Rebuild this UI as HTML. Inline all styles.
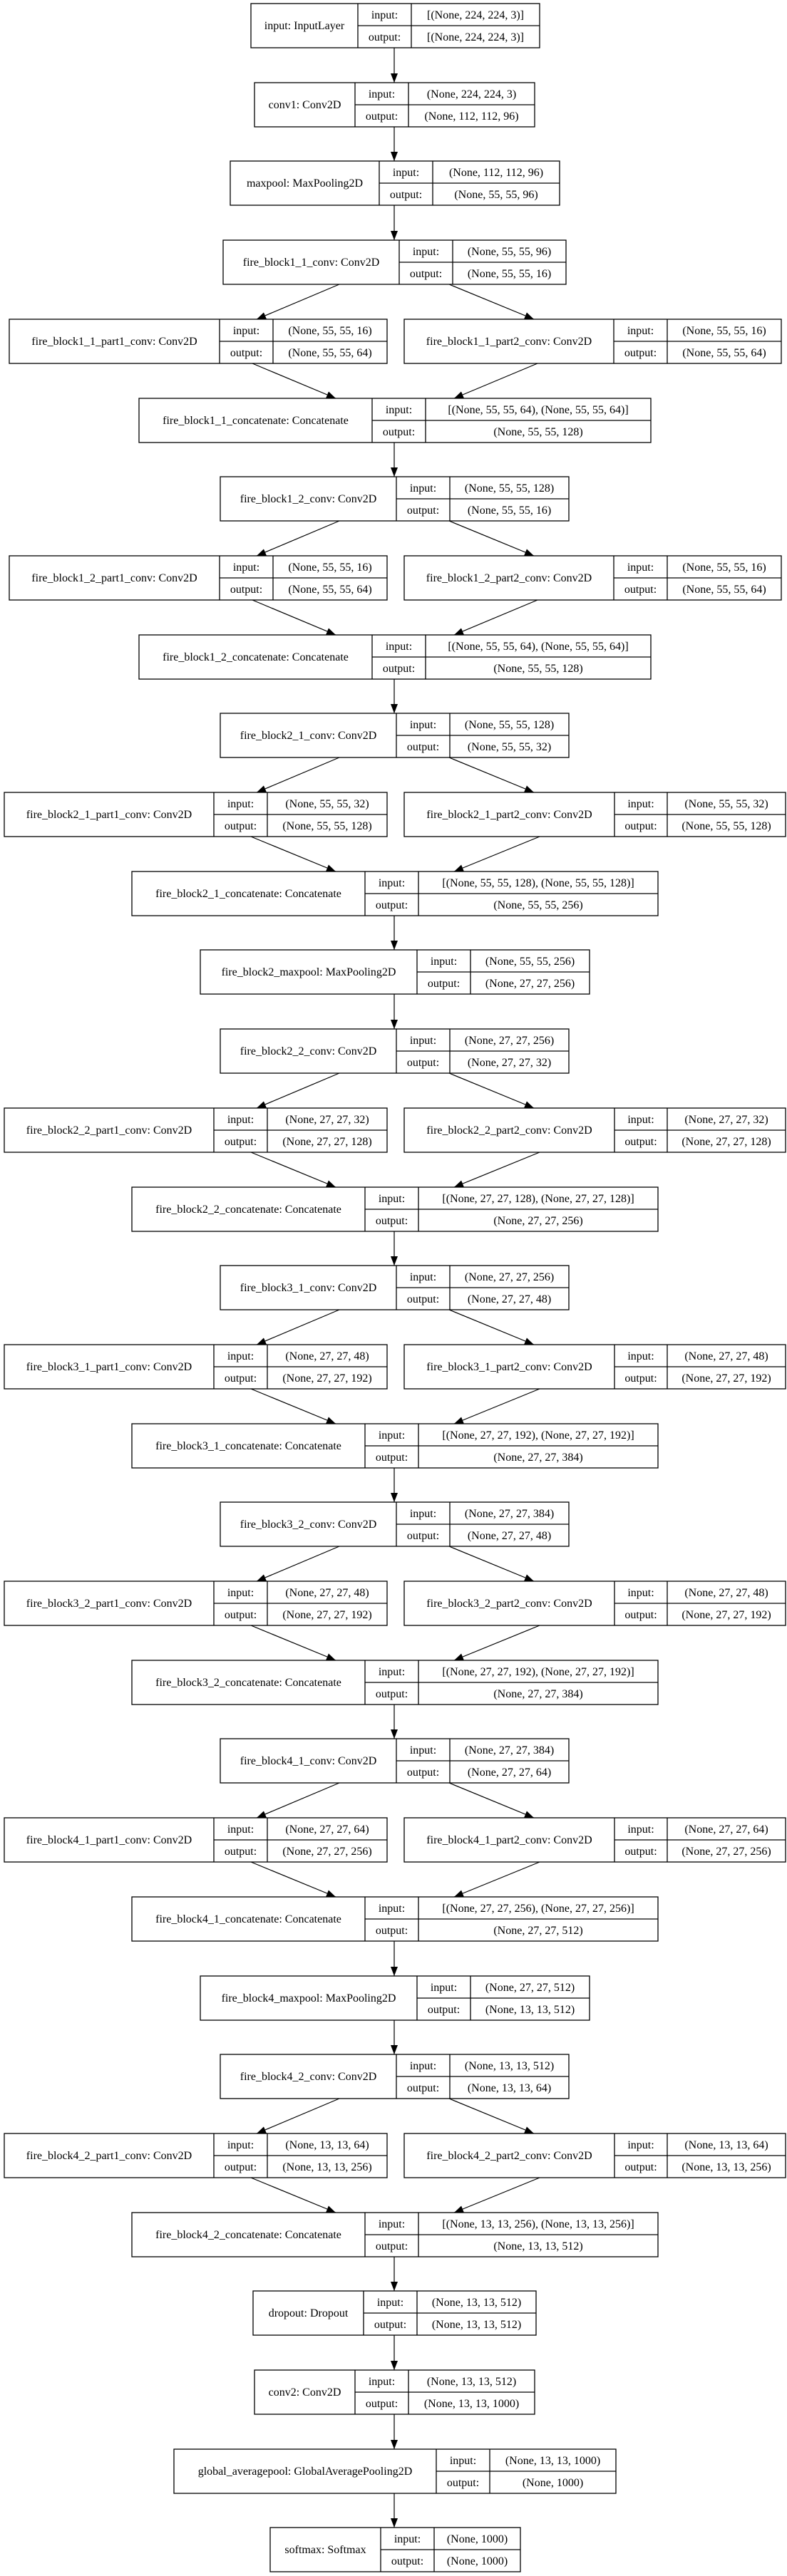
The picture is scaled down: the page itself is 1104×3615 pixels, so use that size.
<!DOCTYPE html>
<html><head><meta charset="utf-8"><style>
html,body{margin:0;padding:0;background:#fff;}
svg{display:block;}
text{font-family:"Liberation Serif",serif;font-size:16px;fill:#000;text-anchor:middle;}
rect{fill:#fff;stroke:#000;stroke-width:1.3;}
line.c{stroke:#000;stroke-width:1.3;}
line.a{stroke:#000;stroke-width:1.2;marker-end:url(#ah);}
</style></head><body>
<svg width="1104" height="3615" viewBox="0 0 1104 3615" xmlns="http://www.w3.org/2000/svg">
<defs><marker id="ah" markerUnits="userSpaceOnUse" markerWidth="14" markerHeight="11" refX="13" refY="5" orient="auto"><path d="M0,0 L13,5 L0,10 z" fill="#000"/></marker></defs>
<rect x="0" y="0" width="1104" height="3615" style="fill:#fff;stroke:none"/>

<!-- 0 input -->
<g transform="translate(0,5)">
<rect x="352" y="0" width="405" height="62"/><line class="c" x1="502" y1="0" x2="502" y2="62"/><line class="c" x1="577" y1="0" x2="577" y2="62"/><line class="c" x1="502" y1="31" x2="757" y2="31"/>
<text x="427" y="36">input: InputLayer</text><text x="539.5" y="21">input:</text><text x="539.5" y="52">output:</text><text x="667" y="21">[(None, 224, 224, 3)]</text><text x="667" y="52">[(None, 224, 224, 3)]</text>
</g>
<!-- 1 conv1 -->
<g transform="translate(0,116)">
<line class="a" x1="553" y1="-49" x2="553" y2="0"/>
<rect x="357" y="0" width="393" height="62"/><line class="c" x1="498" y1="0" x2="498" y2="62"/><line class="c" x1="573" y1="0" x2="573" y2="62"/><line class="c" x1="498" y1="31" x2="750" y2="31"/>
<text x="427.5" y="36">conv1: Conv2D</text><text x="535.5" y="21">input:</text><text x="535.5" y="52">output:</text><text x="661.5" y="21">(None, 224, 224, 3)</text><text x="661.5" y="52">(None, 112, 112, 96)</text>
</g>
<!-- 2 maxpool -->
<g transform="translate(0,226)">
<line class="a" x1="553" y1="-48" x2="553" y2="0"/>
<rect x="323" y="0" width="462" height="62"/><line class="c" x1="532" y1="0" x2="532" y2="62"/><line class="c" x1="607" y1="0" x2="607" y2="62"/><line class="c" x1="532" y1="31" x2="785" y2="31"/>
<text x="427.5" y="36">maxpool: MaxPooling2D</text><text x="569.5" y="21">input:</text><text x="569.5" y="52">output:</text><text x="696" y="21">(None, 112, 112, 96)</text><text x="696" y="52">(None, 55, 55, 96)</text>
</g>
<!-- 3 f11conv -->
<g transform="translate(0,337)">
<line class="a" x1="553" y1="-49" x2="553" y2="0"/>
<rect x="313" y="0" width="481" height="62"/><line class="c" x1="560" y1="0" x2="560" y2="62"/><line class="c" x1="635" y1="0" x2="635" y2="62"/><line class="c" x1="560" y1="31" x2="794" y2="31"/>
<text x="436.5" y="36">fire_block1_1_conv: Conv2D</text><text x="597.5" y="21">input:</text><text x="597.5" y="52">output:</text><text x="714.5" y="21">(None, 55, 55, 96)</text><text x="714.5" y="52">(None, 55, 55, 16)</text>
</g>
<!-- 4 branch -->
<g transform="translate(0,448)">
<line class="a" x1="476" y1="-49" x2="360" y2="0"/><line class="a" x1="630" y1="-49" x2="749" y2="0"/>
<rect x="13" y="0" width="530" height="62"/><line class="c" x1="308" y1="0" x2="308" y2="62"/><line class="c" x1="383" y1="0" x2="383" y2="62"/><line class="c" x1="308" y1="31" x2="543" y2="31"/>
<text x="160.5" y="36">fire_block1_1_part1_conv: Conv2D</text><text x="345.5" y="21">input:</text><text x="345.5" y="52">output:</text><text x="463" y="21">(None, 55, 55, 16)</text><text x="463" y="52">(None, 55, 55, 64)</text>
<rect x="567" y="0" width="529" height="62"/><line class="c" x1="861" y1="0" x2="861" y2="62"/><line class="c" x1="936" y1="0" x2="936" y2="62"/><line class="c" x1="861" y1="31" x2="1096" y2="31"/>
<text x="714" y="36">fire_block1_1_part2_conv: Conv2D</text><text x="898.5" y="21">input:</text><text x="898.5" y="52">output:</text><text x="1016" y="21">(None, 55, 55, 16)</text><text x="1016" y="52">(None, 55, 55, 64)</text>
</g>
<!-- 5 concat -->
<g transform="translate(0,559)">
<line class="a" x1="354" y1="-49" x2="471" y2="0"/><line class="a" x1="754" y1="-49" x2="637" y2="0"/>
<rect x="195" y="0" width="718" height="62"/><line class="c" x1="522" y1="0" x2="522" y2="62"/><line class="c" x1="597" y1="0" x2="597" y2="62"/><line class="c" x1="522" y1="31" x2="913" y2="31"/>
<text x="358.5" y="36">fire_block1_1_concatenate: Concatenate</text><text x="559.5" y="21">input:</text><text x="559.5" y="52">output:</text><text x="755" y="21">[(None, 55, 55, 64), (None, 55, 55, 64)]</text><text x="755" y="52">(None, 55, 55, 128)</text>
</g>
<!-- 6 f12conv -->
<g transform="translate(0,669)">
<line class="a" x1="553" y1="-48" x2="553" y2="0"/>
<rect x="309" y="0" width="489" height="62"/><line class="c" x1="556" y1="0" x2="556" y2="62"/><line class="c" x1="631" y1="0" x2="631" y2="62"/><line class="c" x1="556" y1="31" x2="798" y2="31"/>
<text x="432.5" y="36">fire_block1_2_conv: Conv2D</text><text x="593.5" y="21">input:</text><text x="593.5" y="52">output:</text><text x="714.5" y="21">(None, 55, 55, 128)</text><text x="714.5" y="52">(None, 55, 55, 16)</text>
</g>
<!-- 7 branch -->
<g transform="translate(0,780)">
<line class="a" x1="476" y1="-49" x2="360" y2="0"/><line class="a" x1="630" y1="-49" x2="749" y2="0"/>
<rect x="13" y="0" width="530" height="62"/><line class="c" x1="308" y1="0" x2="308" y2="62"/><line class="c" x1="383" y1="0" x2="383" y2="62"/><line class="c" x1="308" y1="31" x2="543" y2="31"/>
<text x="160.5" y="36">fire_block1_2_part1_conv: Conv2D</text><text x="345.5" y="21">input:</text><text x="345.5" y="52">output:</text><text x="463" y="21">(None, 55, 55, 16)</text><text x="463" y="52">(None, 55, 55, 64)</text>
<rect x="567" y="0" width="529" height="62"/><line class="c" x1="861" y1="0" x2="861" y2="62"/><line class="c" x1="936" y1="0" x2="936" y2="62"/><line class="c" x1="861" y1="31" x2="1096" y2="31"/>
<text x="714" y="36">fire_block1_2_part2_conv: Conv2D</text><text x="898.5" y="21">input:</text><text x="898.5" y="52">output:</text><text x="1016" y="21">(None, 55, 55, 16)</text><text x="1016" y="52">(None, 55, 55, 64)</text>
</g>
<!-- 8 concat -->
<g transform="translate(0,891)">
<line class="a" x1="354" y1="-49" x2="471" y2="0"/><line class="a" x1="754" y1="-49" x2="637" y2="0"/>
<rect x="195" y="0" width="718" height="62"/><line class="c" x1="522" y1="0" x2="522" y2="62"/><line class="c" x1="597" y1="0" x2="597" y2="62"/><line class="c" x1="522" y1="31" x2="913" y2="31"/>
<text x="358.5" y="36">fire_block1_2_concatenate: Concatenate</text><text x="559.5" y="21">input:</text><text x="559.5" y="52">output:</text><text x="755" y="21">[(None, 55, 55, 64), (None, 55, 55, 64)]</text><text x="755" y="52">(None, 55, 55, 128)</text>
</g>
<!-- 9 f21conv -->
<g transform="translate(0,1001)">
<line class="a" x1="553" y1="-48" x2="553" y2="0"/>
<rect x="309" y="0" width="489" height="62"/><line class="c" x1="556" y1="0" x2="556" y2="62"/><line class="c" x1="631" y1="0" x2="631" y2="62"/><line class="c" x1="556" y1="31" x2="798" y2="31"/>
<text x="432.5" y="36">fire_block2_1_conv: Conv2D</text><text x="593.5" y="21">input:</text><text x="593.5" y="52">output:</text><text x="714.5" y="21">(None, 55, 55, 128)</text><text x="714.5" y="52">(None, 55, 55, 32)</text>
</g>
<!-- 10 branch wide -->
<g transform="translate(0,1112)">
<line class="a" x1="476" y1="-49" x2="360" y2="0"/><line class="a" x1="630" y1="-49" x2="749" y2="0"/>
<rect x="6" y="0" width="537" height="62"/><line class="c" x1="300" y1="0" x2="300" y2="62"/><line class="c" x1="375" y1="0" x2="375" y2="62"/><line class="c" x1="300" y1="31" x2="543" y2="31"/>
<text x="153" y="36">fire_block2_1_part1_conv: Conv2D</text><text x="337.5" y="21">input:</text><text x="337.5" y="52">output:</text><text x="459" y="21">(None, 55, 55, 32)</text><text x="459" y="52">(None, 55, 55, 128)</text>
<rect x="567" y="0" width="535" height="62"/><line class="c" x1="862" y1="0" x2="862" y2="62"/><line class="c" x1="936" y1="0" x2="936" y2="62"/><line class="c" x1="862" y1="31" x2="1102" y2="31"/>
<text x="714.5" y="36">fire_block2_1_part2_conv: Conv2D</text><text x="899" y="21">input:</text><text x="899" y="52">output:</text><text x="1019" y="21">(None, 55, 55, 32)</text><text x="1019" y="52">(None, 55, 55, 128)</text>
</g>
<!-- 11 concat wide -->
<g transform="translate(0,1223)">
<line class="a" x1="352" y1="-49" x2="471" y2="0"/><line class="a" x1="757" y1="-49" x2="637" y2="0"/>
<rect x="185" y="0" width="738" height="62"/><line class="c" x1="512" y1="0" x2="512" y2="62"/><line class="c" x1="587" y1="0" x2="587" y2="62"/><line class="c" x1="512" y1="31" x2="923" y2="31"/>
<text x="348.5" y="36">fire_block2_1_concatenate: Concatenate</text><text x="549.5" y="21">input:</text><text x="549.5" y="52">output:</text><text x="755" y="21">[(None, 55, 55, 128), (None, 55, 55, 128)]</text><text x="755" y="52">(None, 55, 55, 256)</text>
</g>
<!-- 12 f2maxpool -->
<g transform="translate(0,1333)">
<line class="a" x1="553" y1="-48" x2="553" y2="0"/>
<rect x="281" y="0" width="546" height="62"/><line class="c" x1="585" y1="0" x2="585" y2="62"/><line class="c" x1="660" y1="0" x2="660" y2="62"/><line class="c" x1="585" y1="31" x2="827" y2="31"/>
<text x="433" y="36">fire_block2_maxpool: MaxPooling2D</text><text x="622.5" y="21">input:</text><text x="622.5" y="52">output:</text><text x="743.5" y="21">(None, 55, 55, 256)</text><text x="743.5" y="52">(None, 27, 27, 256)</text>
</g>
<!-- 13 f22conv -->
<g transform="translate(0,1444)">
<line class="a" x1="553" y1="-49" x2="553" y2="0"/>
<rect x="309" y="0" width="489" height="62"/><line class="c" x1="556" y1="0" x2="556" y2="62"/><line class="c" x1="631" y1="0" x2="631" y2="62"/><line class="c" x1="556" y1="31" x2="798" y2="31"/>
<text x="432.5" y="36">fire_block2_2_conv: Conv2D</text><text x="593.5" y="21">input:</text><text x="593.5" y="52">output:</text><text x="714.5" y="21">(None, 27, 27, 256)</text><text x="714.5" y="52">(None, 27, 27, 32)</text>
</g>
<!-- 14 branch -->
<g transform="translate(0,1555)">
<line class="a" x1="476" y1="-49" x2="360" y2="0"/><line class="a" x1="630" y1="-49" x2="749" y2="0"/>
<rect x="6" y="0" width="537" height="62"/><line class="c" x1="300" y1="0" x2="300" y2="62"/><line class="c" x1="375" y1="0" x2="375" y2="62"/><line class="c" x1="300" y1="31" x2="543" y2="31"/>
<text x="153" y="36">fire_block2_2_part1_conv: Conv2D</text><text x="337.5" y="21">input:</text><text x="337.5" y="52">output:</text><text x="459" y="21">(None, 27, 27, 32)</text><text x="459" y="52">(None, 27, 27, 128)</text>
<rect x="567" y="0" width="535" height="62"/><line class="c" x1="862" y1="0" x2="862" y2="62"/><line class="c" x1="936" y1="0" x2="936" y2="62"/><line class="c" x1="862" y1="31" x2="1102" y2="31"/>
<text x="714.5" y="36">fire_block2_2_part2_conv: Conv2D</text><text x="899" y="21">input:</text><text x="899" y="52">output:</text><text x="1019" y="21">(None, 27, 27, 32)</text><text x="1019" y="52">(None, 27, 27, 128)</text>
</g>
<!-- 15 concat -->
<g transform="translate(0,1666)">
<line class="a" x1="352" y1="-49" x2="471" y2="0"/><line class="a" x1="757" y1="-49" x2="637" y2="0"/>
<rect x="185" y="0" width="738" height="62"/><line class="c" x1="512" y1="0" x2="512" y2="62"/><line class="c" x1="587" y1="0" x2="587" y2="62"/><line class="c" x1="512" y1="31" x2="923" y2="31"/>
<text x="348.5" y="36">fire_block2_2_concatenate: Concatenate</text><text x="549.5" y="21">input:</text><text x="549.5" y="52">output:</text><text x="755" y="21">[(None, 27, 27, 128), (None, 27, 27, 128)]</text><text x="755" y="52">(None, 27, 27, 256)</text>
</g>
<!-- 16 f31conv -->
<g transform="translate(0,1776)">
<line class="a" x1="553" y1="-48" x2="553" y2="0"/>
<rect x="309" y="0" width="489" height="62"/><line class="c" x1="556" y1="0" x2="556" y2="62"/><line class="c" x1="631" y1="0" x2="631" y2="62"/><line class="c" x1="556" y1="31" x2="798" y2="31"/>
<text x="432.5" y="36">fire_block3_1_conv: Conv2D</text><text x="593.5" y="21">input:</text><text x="593.5" y="52">output:</text><text x="714.5" y="21">(None, 27, 27, 256)</text><text x="714.5" y="52">(None, 27, 27, 48)</text>
</g>
<!-- 17 branch -->
<g transform="translate(0,1887)">
<line class="a" x1="476" y1="-49" x2="360" y2="0"/><line class="a" x1="630" y1="-49" x2="749" y2="0"/>
<rect x="6" y="0" width="537" height="62"/><line class="c" x1="300" y1="0" x2="300" y2="62"/><line class="c" x1="375" y1="0" x2="375" y2="62"/><line class="c" x1="300" y1="31" x2="543" y2="31"/>
<text x="153" y="36">fire_block3_1_part1_conv: Conv2D</text><text x="337.5" y="21">input:</text><text x="337.5" y="52">output:</text><text x="459" y="21">(None, 27, 27, 48)</text><text x="459" y="52">(None, 27, 27, 192)</text>
<rect x="567" y="0" width="535" height="62"/><line class="c" x1="862" y1="0" x2="862" y2="62"/><line class="c" x1="936" y1="0" x2="936" y2="62"/><line class="c" x1="862" y1="31" x2="1102" y2="31"/>
<text x="714.5" y="36">fire_block3_1_part2_conv: Conv2D</text><text x="899" y="21">input:</text><text x="899" y="52">output:</text><text x="1019" y="21">(None, 27, 27, 48)</text><text x="1019" y="52">(None, 27, 27, 192)</text>
</g>
<!-- 18 concat -->
<g transform="translate(0,1998)">
<line class="a" x1="352" y1="-49" x2="471" y2="0"/><line class="a" x1="757" y1="-49" x2="637" y2="0"/>
<rect x="185" y="0" width="738" height="62"/><line class="c" x1="512" y1="0" x2="512" y2="62"/><line class="c" x1="587" y1="0" x2="587" y2="62"/><line class="c" x1="512" y1="31" x2="923" y2="31"/>
<text x="348.5" y="36">fire_block3_1_concatenate: Concatenate</text><text x="549.5" y="21">input:</text><text x="549.5" y="52">output:</text><text x="755" y="21">[(None, 27, 27, 192), (None, 27, 27, 192)]</text><text x="755" y="52">(None, 27, 27, 384)</text>
</g>
<!-- 19 f32conv -->
<g transform="translate(0,2108)">
<line class="a" x1="553" y1="-48" x2="553" y2="0"/>
<rect x="309" y="0" width="489" height="62"/><line class="c" x1="556" y1="0" x2="556" y2="62"/><line class="c" x1="631" y1="0" x2="631" y2="62"/><line class="c" x1="556" y1="31" x2="798" y2="31"/>
<text x="432.5" y="36">fire_block3_2_conv: Conv2D</text><text x="593.5" y="21">input:</text><text x="593.5" y="52">output:</text><text x="714.5" y="21">(None, 27, 27, 384)</text><text x="714.5" y="52">(None, 27, 27, 48)</text>
</g>
<!-- 20 branch -->
<g transform="translate(0,2219)">
<line class="a" x1="476" y1="-49" x2="360" y2="0"/><line class="a" x1="630" y1="-49" x2="749" y2="0"/>
<rect x="6" y="0" width="537" height="62"/><line class="c" x1="300" y1="0" x2="300" y2="62"/><line class="c" x1="375" y1="0" x2="375" y2="62"/><line class="c" x1="300" y1="31" x2="543" y2="31"/>
<text x="153" y="36">fire_block3_2_part1_conv: Conv2D</text><text x="337.5" y="21">input:</text><text x="337.5" y="52">output:</text><text x="459" y="21">(None, 27, 27, 48)</text><text x="459" y="52">(None, 27, 27, 192)</text>
<rect x="567" y="0" width="535" height="62"/><line class="c" x1="862" y1="0" x2="862" y2="62"/><line class="c" x1="936" y1="0" x2="936" y2="62"/><line class="c" x1="862" y1="31" x2="1102" y2="31"/>
<text x="714.5" y="36">fire_block3_2_part2_conv: Conv2D</text><text x="899" y="21">input:</text><text x="899" y="52">output:</text><text x="1019" y="21">(None, 27, 27, 48)</text><text x="1019" y="52">(None, 27, 27, 192)</text>
</g>
<!-- 21 concat -->
<g transform="translate(0,2330)">
<line class="a" x1="352" y1="-49" x2="471" y2="0"/><line class="a" x1="757" y1="-49" x2="637" y2="0"/>
<rect x="185" y="0" width="738" height="62"/><line class="c" x1="512" y1="0" x2="512" y2="62"/><line class="c" x1="587" y1="0" x2="587" y2="62"/><line class="c" x1="512" y1="31" x2="923" y2="31"/>
<text x="348.5" y="36">fire_block3_2_concatenate: Concatenate</text><text x="549.5" y="21">input:</text><text x="549.5" y="52">output:</text><text x="755" y="21">[(None, 27, 27, 192), (None, 27, 27, 192)]</text><text x="755" y="52">(None, 27, 27, 384)</text>
</g>
<!-- 22 f41conv -->
<g transform="translate(0,2440)">
<line class="a" x1="553" y1="-48" x2="553" y2="0"/>
<rect x="309" y="0" width="489" height="62"/><line class="c" x1="556" y1="0" x2="556" y2="62"/><line class="c" x1="631" y1="0" x2="631" y2="62"/><line class="c" x1="556" y1="31" x2="798" y2="31"/>
<text x="432.5" y="36">fire_block4_1_conv: Conv2D</text><text x="593.5" y="21">input:</text><text x="593.5" y="52">output:</text><text x="714.5" y="21">(None, 27, 27, 384)</text><text x="714.5" y="52">(None, 27, 27, 64)</text>
</g>
<!-- 23 branch -->
<g transform="translate(0,2551)">
<line class="a" x1="476" y1="-49" x2="360" y2="0"/><line class="a" x1="630" y1="-49" x2="749" y2="0"/>
<rect x="6" y="0" width="537" height="62"/><line class="c" x1="300" y1="0" x2="300" y2="62"/><line class="c" x1="375" y1="0" x2="375" y2="62"/><line class="c" x1="300" y1="31" x2="543" y2="31"/>
<text x="153" y="36">fire_block4_1_part1_conv: Conv2D</text><text x="337.5" y="21">input:</text><text x="337.5" y="52">output:</text><text x="459" y="21">(None, 27, 27, 64)</text><text x="459" y="52">(None, 27, 27, 256)</text>
<rect x="567" y="0" width="535" height="62"/><line class="c" x1="862" y1="0" x2="862" y2="62"/><line class="c" x1="936" y1="0" x2="936" y2="62"/><line class="c" x1="862" y1="31" x2="1102" y2="31"/>
<text x="714.5" y="36">fire_block4_1_part2_conv: Conv2D</text><text x="899" y="21">input:</text><text x="899" y="52">output:</text><text x="1019" y="21">(None, 27, 27, 64)</text><text x="1019" y="52">(None, 27, 27, 256)</text>
</g>
<!-- 24 concat -->
<g transform="translate(0,2662)">
<line class="a" x1="352" y1="-49" x2="471" y2="0"/><line class="a" x1="757" y1="-49" x2="637" y2="0"/>
<rect x="185" y="0" width="738" height="62"/><line class="c" x1="512" y1="0" x2="512" y2="62"/><line class="c" x1="587" y1="0" x2="587" y2="62"/><line class="c" x1="512" y1="31" x2="923" y2="31"/>
<text x="348.5" y="36">fire_block4_1_concatenate: Concatenate</text><text x="549.5" y="21">input:</text><text x="549.5" y="52">output:</text><text x="755" y="21">[(None, 27, 27, 256), (None, 27, 27, 256)]</text><text x="755" y="52">(None, 27, 27, 512)</text>
</g>
<!-- 25 f4maxpool -->
<g transform="translate(0,2773)">
<line class="a" x1="553" y1="-49" x2="553" y2="0"/>
<rect x="281" y="0" width="546" height="62"/><line class="c" x1="585" y1="0" x2="585" y2="62"/><line class="c" x1="660" y1="0" x2="660" y2="62"/><line class="c" x1="585" y1="31" x2="827" y2="31"/>
<text x="433" y="36">fire_block4_maxpool: MaxPooling2D</text><text x="622.5" y="21">input:</text><text x="622.5" y="52">output:</text><text x="743.5" y="21">(None, 27, 27, 512)</text><text x="743.5" y="52">(None, 13, 13, 512)</text>
</g>
<!-- 26 f42conv -->
<g transform="translate(0,2883)">
<line class="a" x1="553" y1="-48" x2="553" y2="0"/>
<rect x="309" y="0" width="489" height="62"/><line class="c" x1="556" y1="0" x2="556" y2="62"/><line class="c" x1="631" y1="0" x2="631" y2="62"/><line class="c" x1="556" y1="31" x2="798" y2="31"/>
<text x="432.5" y="36">fire_block4_2_conv: Conv2D</text><text x="593.5" y="21">input:</text><text x="593.5" y="52">output:</text><text x="714.5" y="21">(None, 13, 13, 512)</text><text x="714.5" y="52">(None, 13, 13, 64)</text>
</g>
<!-- 27 branch -->
<g transform="translate(0,2994)">
<line class="a" x1="476" y1="-49" x2="360" y2="0"/><line class="a" x1="630" y1="-49" x2="749" y2="0"/>
<rect x="6" y="0" width="537" height="62"/><line class="c" x1="300" y1="0" x2="300" y2="62"/><line class="c" x1="375" y1="0" x2="375" y2="62"/><line class="c" x1="300" y1="31" x2="543" y2="31"/>
<text x="153" y="36">fire_block4_2_part1_conv: Conv2D</text><text x="337.5" y="21">input:</text><text x="337.5" y="52">output:</text><text x="459" y="21">(None, 13, 13, 64)</text><text x="459" y="52">(None, 13, 13, 256)</text>
<rect x="567" y="0" width="535" height="62"/><line class="c" x1="862" y1="0" x2="862" y2="62"/><line class="c" x1="936" y1="0" x2="936" y2="62"/><line class="c" x1="862" y1="31" x2="1102" y2="31"/>
<text x="714.5" y="36">fire_block4_2_part2_conv: Conv2D</text><text x="899" y="21">input:</text><text x="899" y="52">output:</text><text x="1019" y="21">(None, 13, 13, 64)</text><text x="1019" y="52">(None, 13, 13, 256)</text>
</g>
<!-- 28 concat -->
<g transform="translate(0,3105)">
<line class="a" x1="352" y1="-49" x2="471" y2="0"/><line class="a" x1="757" y1="-49" x2="637" y2="0"/>
<rect x="185" y="0" width="738" height="62"/><line class="c" x1="512" y1="0" x2="512" y2="62"/><line class="c" x1="587" y1="0" x2="587" y2="62"/><line class="c" x1="512" y1="31" x2="923" y2="31"/>
<text x="348.5" y="36">fire_block4_2_concatenate: Concatenate</text><text x="549.5" y="21">input:</text><text x="549.5" y="52">output:</text><text x="755" y="21">[(None, 13, 13, 256), (None, 13, 13, 256)]</text><text x="755" y="52">(None, 13, 13, 512)</text>
</g>
<!-- 29 dropout -->
<g transform="translate(0,3215)">
<line class="a" x1="553" y1="-48" x2="553" y2="0"/>
<rect x="355" y="0" width="397" height="62"/><line class="c" x1="510" y1="0" x2="510" y2="62"/><line class="c" x1="585" y1="0" x2="585" y2="62"/><line class="c" x1="510" y1="31" x2="752" y2="31"/>
<text x="432.5" y="36">dropout: Dropout</text><text x="547.5" y="21">input:</text><text x="547.5" y="52">output:</text><text x="668.5" y="21">(None, 13, 13, 512)</text><text x="668.5" y="52">(None, 13, 13, 512)</text>
</g>
<!-- 30 conv2 -->
<g transform="translate(0,3326)">
<line class="a" x1="553" y1="-49" x2="553" y2="0"/>
<rect x="357" y="0" width="393" height="62"/><line class="c" x1="498" y1="0" x2="498" y2="62"/><line class="c" x1="573" y1="0" x2="573" y2="62"/><line class="c" x1="498" y1="31" x2="750" y2="31"/>
<text x="427.5" y="36">conv2: Conv2D</text><text x="535.5" y="21">input:</text><text x="535.5" y="52">output:</text><text x="661.5" y="21">(None, 13, 13, 512)</text><text x="661.5" y="52">(None, 13, 13, 1000)</text>
</g>
<!-- 31 gap -->
<g transform="translate(0,3437)">
<line class="a" x1="553" y1="-49" x2="553" y2="0"/>
<rect x="244" y="0" width="620" height="62"/><line class="c" x1="612" y1="0" x2="612" y2="62"/><line class="c" x1="687" y1="0" x2="687" y2="62"/><line class="c" x1="612" y1="31" x2="864" y2="31"/>
<text x="428" y="36">global_averagepool: GlobalAveragePooling2D</text><text x="649.5" y="21">input:</text><text x="649.5" y="52">output:</text><text x="775.5" y="21">(None, 13, 13, 1000)</text><text x="775.5" y="52">(None, 1000)</text>
</g>
<!-- 32 softmax -->
<g transform="translate(0,3547)">
<line class="a" x1="553" y1="-48" x2="553" y2="0"/>
<rect x="379" y="0" width="351" height="62"/><line class="c" x1="534" y1="0" x2="534" y2="62"/><line class="c" x1="609" y1="0" x2="609" y2="62"/><line class="c" x1="534" y1="31" x2="730" y2="31"/>
<text x="456.5" y="36">softmax: Softmax</text><text x="571.5" y="21">input:</text><text x="571.5" y="52">output:</text><text x="669.5" y="21">(None, 1000)</text><text x="669.5" y="52">(None, 1000)</text>
</g>
</svg>
</body></html>
